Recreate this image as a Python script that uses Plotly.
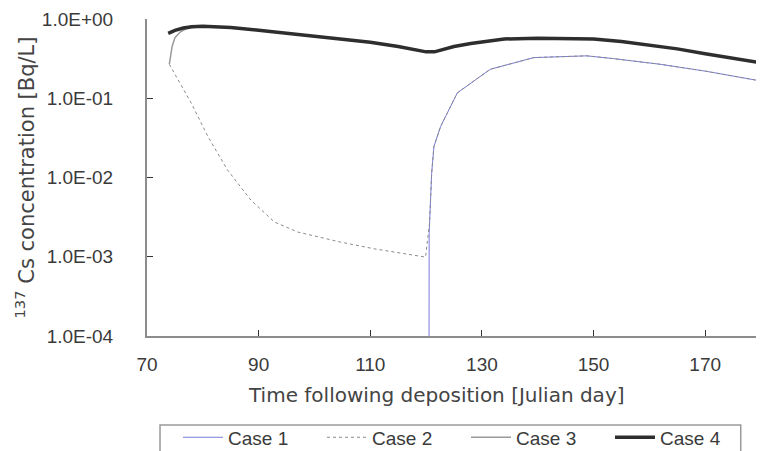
import plotly.graph_objects as go

# ---- data ----
case1_day = [120.5, 120.55, 120.8, 121.0, 121.4, 122.6, 125.6, 131.5, 139.3, 148.8, 153.6, 162.0, 170.0, 180.0]
case1_val = [1e-6, 0.002, 0.0052, 0.0113, 0.0246, 0.044, 0.117, 0.232, 0.326, 0.343, 0.316, 0.268, 0.22, 0.165]

case2_day = [74.0, 76.0, 77.9, 80.9, 84.4, 88.6, 92.8, 97.0, 104.7, 110.7, 119.9, 120.6, 120.8, 121.0, 121.4,
             122.6, 125.6, 131.5, 139.3, 148.8, 153.6, 162.0, 170.0, 180.0]
case2_val = [0.268, 0.15, 0.0875, 0.033, 0.0125, 0.0052, 0.00275, 0.00205, 0.00153, 0.00126, 0.00099, 0.0026,
             0.0052, 0.0113, 0.0246, 0.044, 0.117, 0.232, 0.326, 0.343, 0.316, 0.268, 0.22, 0.165]

case3_day = [74.0, 74.5, 75.0, 76.0, 77.0, 78.0, 80.0, 85.0, 90.0, 95.0, 100.0, 105.0, 110.0, 115.0, 118.5,
             120.0, 121.5, 123.0, 125.0, 128.0, 131.0, 134.0, 140.0, 147.0, 150.0, 155.0, 160.0, 165.0, 170.0,
             175.0, 180.0]
case3_val = [0.27, 0.45, 0.58, 0.69, 0.75, 0.78, 0.80, 0.78, 0.72, 0.66, 0.61, 0.56, 0.51, 0.45, 0.41,
             0.385, 0.385, 0.41, 0.45, 0.49, 0.53, 0.56, 0.57, 0.57, 0.56, 0.52, 0.47, 0.42, 0.365,
             0.32, 0.28]

case4_day = [73.8, 75.0, 76.5, 78.0, 80.0, 85.0, 90.0, 95.0, 100.0, 105.0, 110.0, 115.0, 118.5, 120.0,
             121.5, 123.0, 125.0, 128.0, 131.0, 134.0, 140.0, 147.0, 150.0, 155.0, 160.0, 165.0, 170.0,
             175.0, 180.0]
case4_val = [0.66, 0.72, 0.77, 0.80, 0.81, 0.78, 0.72, 0.66, 0.61, 0.56, 0.51, 0.45, 0.41, 0.385,
             0.385, 0.41, 0.45, 0.49, 0.53, 0.56, 0.57, 0.57, 0.56, 0.52, 0.47, 0.42, 0.365,
             0.32, 0.28]

x_ticks = [70, 90, 110, 130, 150, 170]
y_ticks = [1e-4, 1e-3, 1e-2, 1e-1, 1.0]
y_ticktext = ["1.0E-04", "1.0E-03", "1.0E-02", "1.0E-01", "1.0E+00"]

FONT = "Liberation Sans, Arial, sans-serif"
TFONT = "DejaVu Sans, sans-serif"
TXT = "#3a3a3a"

fig = go.Figure()
fig.add_trace(go.Scatter(x=case1_day, y=case1_val, mode="lines", name="Case 1",
                         line=dict(color="#7b7bd8", width=1)))
fig.add_trace(go.Scatter(x=case2_day, y=case2_val, mode="lines", name="Case 2",
                         line=dict(color="#8a8a8a", width=1, dash="dot")))
fig.add_trace(go.Scatter(x=case3_day, y=case3_val, mode="lines", name="Case 3",
                         line=dict(color="#9a9a9a", width=1.5)))
fig.add_trace(go.Scatter(x=case4_day, y=case4_val, mode="lines", name="Case 4",
                         line=dict(color="#2e2e2e", width=3.5)))

# legend frame (partly cut off at the bottom of the picture, as in the reference)
fig.add_shape(type="rect", xref="paper", yref="paper", x0=0.0212, x1=0.967, y0=-0.45, y1=-0.281,
              line=dict(color="#9a9a9a", width=1.5), fillcolor="rgba(0,0,0,0)", layer="above")

# x-axis title, centred on the chart as in the reference
fig.add_annotation(text="Time following deposition [Julian day]", xref="paper", yref="paper",
                   x=0.472, y=-0.186, xanchor="center", yanchor="middle", showarrow=False,
                   font=dict(family=TFONT, size=20, color="#444444"))

fig.update_layout(
    width=756, height=443,
    margin=dict(l=139, r=3, t=11, b=115, autoexpand=False),
    paper_bgcolor="white", plot_bgcolor="white",
    font=dict(family=FONT, size=19, color=TXT),
    showlegend=True,
    legend=dict(orientation="h", x=0.0505, xanchor="left", y=-0.26, yanchor="top",
                borderwidth=0, bgcolor="rgba(0,0,0,0)",
                font=dict(family=FONT, size=19, color=TXT),
                entrywidth=89, entrywidthmode="pixels", tracegroupgap=0,
                itemwidth=40),
    xaxis=dict(range=[70, 180], tickvals=x_ticks, ticks="inside", ticklen=6, tickwidth=1,
               tickcolor="#333333", showline=True, linecolor="#8c8c8c", linewidth=2,
               showgrid=False, zeroline=False, ticklabelstandoff=10,
               tickfont=dict(size=19)),
    yaxis=dict(type="log", range=[-4, 0], tickvals=y_ticks, ticktext=y_ticktext,
               ticks="inside", ticklen=6, tickwidth=1, tickcolor="#333333",
               showline=True, linecolor="#8c8c8c", linewidth=2, showgrid=False,
               zeroline=False, ticklabelstandoff=28, tickfont=dict(size=19),
               title=dict(text="<sup>137</sup> Cs concentration [Bq/L]", standoff=2,
                          font=dict(family=TFONT, size=21, color="#444444"))),
)

fig.write_html("out.html")
